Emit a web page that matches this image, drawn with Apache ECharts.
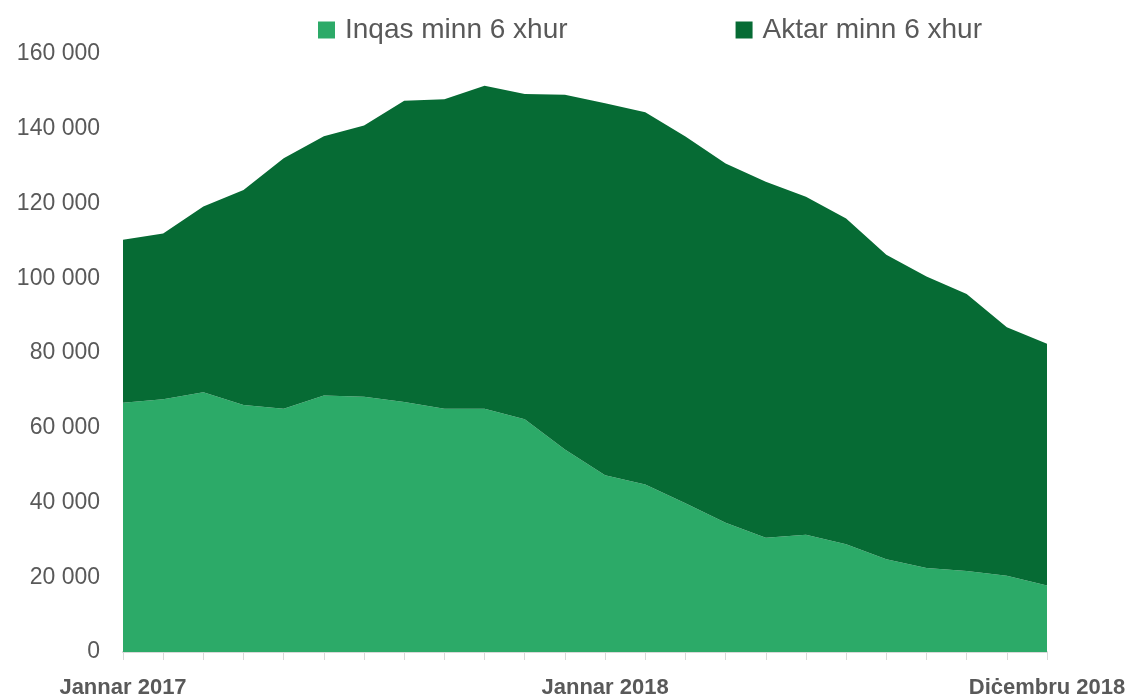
<!DOCTYPE html>
<html>
<head>
<meta charset="utf-8">
<title>Inqas / Aktar minn 6 xhur</title>
<script src="https://cdn.jsdelivr.net/npm/echarts@6/dist/echarts.min.js"></script>
<style>
  html, body { margin: 0; padding: 0; background: #ffffff; }
  #chart { width: 1134px; height: 699px; }
</style>
</head>
<body>
<div id="chart"></div>
<script>
// months, Jan 2017 .. Dec 2018
const months = [
  'Jannar 2017', 'Frar 2017', 'Marzu 2017', 'April 2017', 'Mejju 2017', 'Ġunju 2017',
  'Lulju 2017', 'Awwissu 2017', 'Settembru 2017', 'Ottubru 2017', 'Novembru 2017', 'Diċembru 2017',
  'Jannar 2018', 'Frar 2018', 'Marzu 2018', 'April 2018', 'Mejju 2018', 'Ġunju 2018',
  'Lulju 2018', 'Awwissu 2018', 'Settembru 2018', 'Ottubru 2018', 'Novembru 2018', 'Diċembru 2018'
];
const shownLabels = [0, 12, 23];

const seriesNames = ['Inqas minn 6 xhur', 'Aktar minn 6 xhur'];

const lessThan6 = [
  66700, 67600, 69500, 66100, 65100, 68600, 68300, 66900, 65100, 65100, 62300, 54200,
  47300, 44800, 39800, 34600, 30600, 31400, 28800, 24800, 22500, 21700, 20400, 17800
];
const moreThan6 = [
  43600, 44400, 49700, 57500, 67000, 69400, 72600, 80600, 82800, 86400, 87000, 94900,
  99500, 99600, 98100, 96100, 95200, 90400, 87200, 81500, 78000, 74100, 66500, 64700
];

const yMin = 0;
const yMax = 160000;
const yStep = 20000;

const textColor = '#595959';
const colors = ['#2caa68', '#066b34'];

const myChart = echarts.init(document.getElementById('chart'));

myChart.setOption({
  animation: false,
  color: colors,
  textStyle: { fontFamily: 'Liberation Sans, Arial, sans-serif' },
  legend: {
    left: 313,
    top: 11,
    itemWidth: 17,
    itemHeight: 17,
    itemGap: 168,
    icon: 'rect',
    textStyle: {
      color: textColor,
      fontSize: 28,
      padding: [0, 0, 0, 5]
    },
    data: seriesNames
  },
  grid: {
    left: 123,
    right: 87,
    top: 54,
    bottom: 46,
    containLabel: false
  },
  xAxis: {
    type: 'category',
    boundaryGap: false,
    data: months,
    axisLine: {
      lineStyle: { color: '#d9d9d9', width: 2 }
    },
    axisTick: {
      show: true,
      interval: 0,
      length: 8,
      lineStyle: { color: '#d9d9d9', width: 1 }
    },
    axisLabel: {
      interval: (i) => shownLabels.includes(i),
      color: textColor,
      fontSize: 22,
      fontWeight: 'bold',
      margin: 25,
      showMaxLabel: true
    }
  },
  yAxis: {
    type: 'value',
    min: yMin,
    max: yMax,
    interval: yStep,
    axisLine: { show: false },
    axisTick: { show: false },
    splitLine: { show: false },
    axisLabel: {
      color: textColor,
      fontSize: 23,
      margin: 23,
      formatter: (v) => String(v).replace(/\B(?=(\d{3})+(?!\d))/g, ' ')
    }
  },
  series: [
    {
      name: seriesNames[0],
      type: 'line',
      stack: 'total',
      data: lessThan6,
      showSymbol: false,
      lineStyle: { width: 0 },
      areaStyle: { color: colors[0], opacity: 1 }
    },
    {
      name: seriesNames[1],
      type: 'line',
      stack: 'total',
      data: moreThan6,
      showSymbol: false,
      lineStyle: { width: 0 },
      areaStyle: { color: colors[1], opacity: 1 }
    }
  ]
});
</script>
</body>
</html>
